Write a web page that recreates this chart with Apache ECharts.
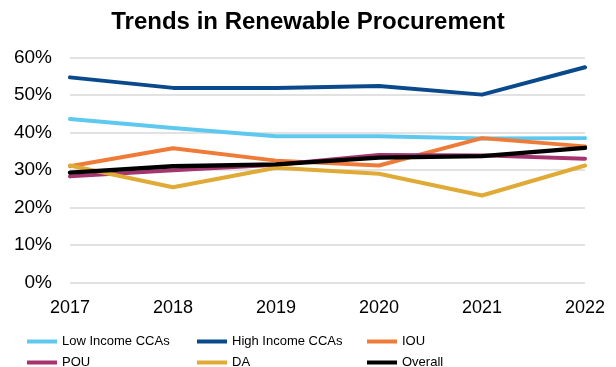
<!DOCTYPE html>
<html>
<head>
<meta charset="utf-8">
<script src="https://cdn.jsdelivr.net/npm/echarts@6/dist/echarts.min.js"></script>
<style>
  html, body { margin: 0; padding: 0; background: #fff; }
  #chart { width: 616px; height: 367px; }
</style>
</head>
<body>
<div id="chart"></div>
<script>
// Share of renewable procurement by load-serving entity group, 2017–2022 (%)
const years = ['2017', '2018', '2019', '2020', '2021', '2022'];
const lowIncomeCCAs  = [43.6, 41.2, 39.0, 39.0, 38.4, 38.5];
const highIncomeCCAs = [54.7, 51.9, 51.9, 52.4, 50.1, 57.4];
const iou            = [31.0, 35.8, 32.5, 31.2, 38.5, 36.3];
const pou            = [28.3, 29.9, 31.4, 34.0, 33.9, 33.0];
const da             = [31.2, 25.4, 30.6, 29.0, 23.2, 31.2];
const overall        = [29.3, 31.0, 31.5, 33.3, 33.7, 35.9];
const yTicks = { min: 0, max: 60, step: 10 };

const seriesDefs = [
  { name: 'Low Income CCAs',  data: lowIncomeCCAs,  color: '#5ec8ef', width: 4 },
  { name: 'High Income CCAs', data: highIncomeCCAs, color: '#0a4a8c', width: 4 },
  { name: 'IOU',              data: iou,            color: '#ef7b38', width: 4 },
  { name: 'POU',              data: pou,            color: '#a5346f', width: 4 },
  { name: 'DA',               data: da,             color: '#e0aa36', width: 4 },
  { name: 'Overall',          data: overall,        color: '#000000', width: 4.5 }
];

const chart = echarts.init(document.getElementById('chart'), null, { renderer: 'canvas' });

chart.setOption({
  animation: false,
  backgroundColor: '#ffffff',
  textStyle: { fontFamily: '"Liberation Sans", Arial, sans-serif' },
  title: {
    text: 'Trends in Renewable Procurement',
    left: 'center',
    top: 5,
    textStyle: { fontSize: 24, fontWeight: 'bold', color: '#000', fontFamily: '"Liberation Sans", Arial, sans-serif' }
  },
  legend: {
    left: 27,
    top: 333,
    width: 520,
    padding: 0,
    icon: 'rect',
    itemWidth: 30,
    itemHeight: 4,
    itemGap: 4,
    data: seriesDefs.map(s => s.name),
    textStyle: {
      fontSize: 13,
      color: '#000',
      width: 131,
      lineHeight: 17,
      fontFamily: '"Liberation Sans", Arial, sans-serif'
    }
  },
  grid: { left: 70, right: 31, top: 57.5, bottom: 84.5 },
  xAxis: {
    type: 'category',
    data: years,
    boundaryGap: false,
    axisLine: { show: false },
    axisTick: { show: false },
    axisLabel: { fontSize: 18, color: '#000', margin: 17 }
  },
  yAxis: {
    type: 'value',
    min: yTicks.min,
    max: yTicks.max,
    interval: yTicks.step,
    axisLine: { show: false },
    axisTick: { show: false },
    axisLabel: { fontSize: 19, color: '#000', margin: 18, formatter: '{value}%' },
    splitLine: { lineStyle: { color: '#d9d9d9', width: 1.5 } }
  },
  series: seriesDefs.map(s => ({
    name: s.name,
    type: 'line',
    data: s.data,
    symbol: 'none',
    color: s.color,
    lineStyle: { color: s.color, width: s.width, cap: 'round', join: 'round' }
  }))
});
</script>
</body>
</html>
